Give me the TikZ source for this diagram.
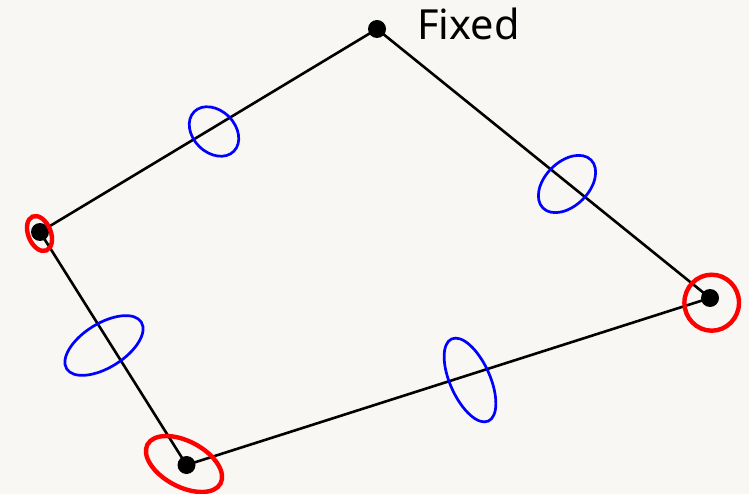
\documentclass[tikz,border=0pt]{standalone}
\usepackage{fontspec}
\setmainfont{Noto Sans}
\definecolor{bg}{HTML}{F8F7F4}
\begin{document}
\begin{tikzpicture}[x=1pt,y=-1pt,
  joint/.style={circle,fill=black,inner sep=0pt,minimum size=18pt},
  link/.style={draw=black,line width=2.6pt},
  redring/.style={draw=red,line width=4.4pt},
  bluering/.style={draw=blue,line width=2.7pt}]
\fill[bg] (0,0) rectangle (749,494);
\useasboundingbox (0,0) rectangle (749,494);
% joints
\node[joint] (F) at (377,29) {};
\node[joint] (L) at (40,232) {};
\node[joint] (B) at (186.5,465) {};
\node[joint] (R) at (710,298) {};
\node[anchor=base west,inner sep=0pt,font=\fontsize{41.5pt}{48pt}\selectfont] (lbl) at (417,40) {Fixed};
% links
\draw[link] (F.center) -- (L.center) -- (B.center) -- (R.center) -- (F.center);
% blue rings on links
\draw[bluering,shift={(214,131.5)},rotate=-45] (0,0) ellipse [x radius=28pt,y radius=21pt];
\draw[bluering,shift={(567,184)},rotate=45] (0,0) ellipse [x radius=34pt,y radius=22pt];
\draw[bluering,shift={(104,345.5)},rotate=32] (0,0) ellipse [x radius=44pt,y radius=22pt];
\draw[bluering,shift={(470,380)},rotate=-66] (0,0) ellipse [x radius=45pt,y radius=20pt];
% red rings on joints
\draw[redring,shift={(39.5,233.5)},rotate=-68] (0,0) ellipse [x radius=18.3pt,y radius=11.3pt];
\draw[redring,shift={(184,464)},rotate=-28] (0,0) ellipse [x radius=41.4pt,y radius=22.8pt];
\draw[redring,shift={(711.7,302.7)}] (0,0) ellipse [x radius=27.3pt,y radius=28pt];
\end{tikzpicture}
\end{document}
